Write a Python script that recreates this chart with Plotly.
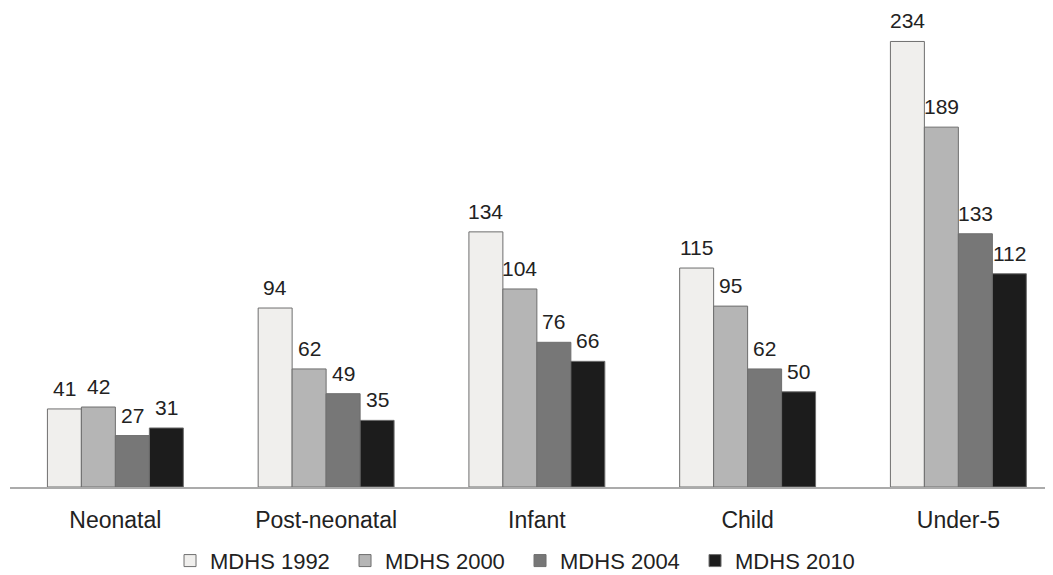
import plotly.graph_objects as go

categories = ["Neonatal", "Post-neonatal", "Infant", "Child", "Under-5"]
series_names = ["MDHS 1992", "MDHS 2000", "MDHS 2004", "MDHS 2010"]
v1992 = [41, 94, 134, 115, 234]
v2000 = [42, 62, 104, 95, 189]
v2004 = [27, 49, 76, 62, 133]
v2010 = [31, 35, 66, 50, 112]
values = [v1992, v2000, v2004, v2010]
colors = ["#f0efed", "#b5b5b5", "#777777", "#1c1c1c"]
shifts = [-51, -17, 17, 51]

FONT = "Liberation Sans, Arial, sans-serif"

fig = go.Figure()
for name, vals, col in zip(series_names, values, colors):
    fig.add_trace(go.Bar(
        x=categories, y=vals, name=name,
        marker=dict(color=col, line=dict(color="#6e6e6e", width=1)),
    ))

for vals, sh in zip(values, shifts):
    for c, v in zip(categories, vals):
        fig.add_annotation(x=c, y=v, text=str(v), showarrow=False,
                           xref="x", yref="y", xshift=sh, yshift=7,
                           yanchor="bottom",
                           font=dict(family=FONT, size=21, color="#222"))

fig.update_layout(
    width=1045, height=567,
    margin=dict(l=2, r=0, t=3, b=88, autoexpand=False),
    paper_bgcolor="white", plot_bgcolor="white",
    barmode="group", bargap=0.355, bargroupgap=0,
    font=dict(family=FONT, size=22, color="#222"),
    showlegend=True,
    legend=dict(orientation="h", x=0.489, xanchor="center", y=-0.155, yanchor="middle",
                font=dict(family=FONT, size=22, color="#222"),
                itemwidth=30, entrywidth=130, traceorder="normal"),
)
fig.update_xaxes(range=[-0.5, 4.449], showline=True, linecolor="#ababab", linewidth=2,
                 automargin=False,
                 ticks="outside", ticklen=11, tickcolor="rgba(0,0,0,0)",
                 tickfont=dict(family=FONT, size=23, color="#222"))
fig.update_yaxes(range=[0, 250], visible=False, showgrid=False, automargin=False)

fig.write_html("out.html")
